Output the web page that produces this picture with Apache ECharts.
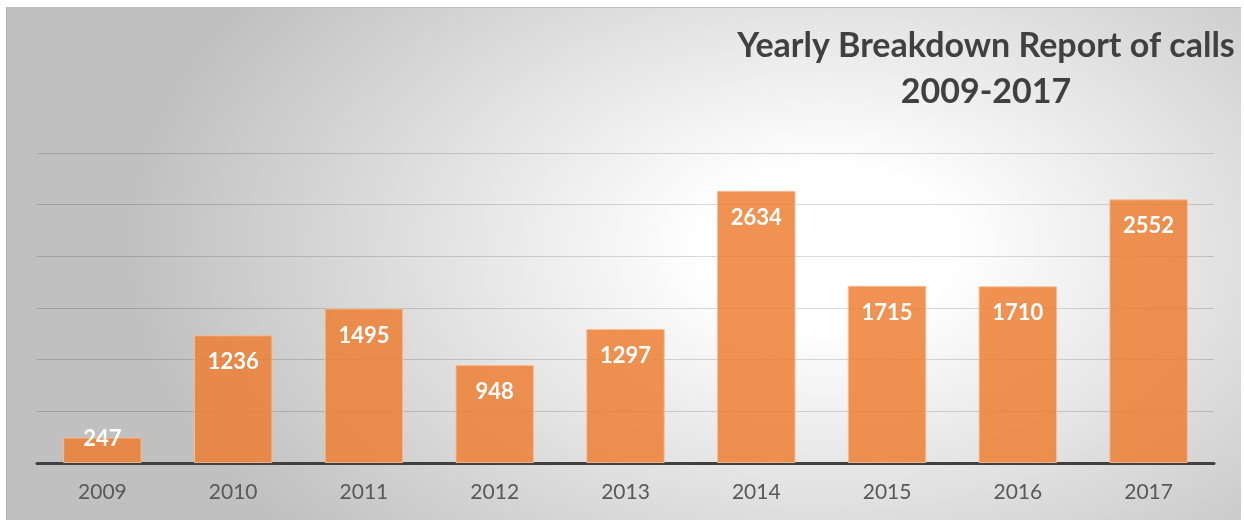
<!DOCTYPE html>
<html>
<head>
<meta charset="utf-8">
<script src="https://cdn.jsdelivr.net/npm/echarts@6/dist/echarts.min.js"></script>
<style>
  html, body { margin: 0; padding: 0; background: #fff; }
  #frame {
    position: absolute; left: 6px; top: 7px; width: 1234px; height: 513px;
    border-left: 1px solid #b0b0b0; border-top: 1px solid #c0c0c0;
    background: radial-gradient(ellipse 700px 440px at 820px 240px, #ffffff 18%, #c0c0c0 100%);
  }
  #chart { width: 1234px; height: 513px; }
</style>
</head>
<body>
<div id="frame"><div id="chart"></div></div>
<script>
const years = ["2009", "2010", "2011", "2012", "2013", "2014", "2015", "2016", "2017"];
const calls = [247, 1236, 1495, 948, 1297, 2634, 1715, 1710, 2552];

const chart = echarts.init(document.getElementById("chart"));

// short bars get their label centred on the bar top
const barData = calls.map((v) => v < 500
  ? { value: v, label: { position: "top", distance: -12 } }
  : v);

chart.setOption({
  backgroundColor: "transparent",
  animation: false,
  title: {
    text: "Yearly Breakdown Report of calls\n2009-2017",
    left: 974,
    top: 10,
    textAlign: "center",
    textStyle: {
      fontFamily: "Lato",
      fontWeight: "bold",
      fontSize: 34,
      lineHeight: 46,
      color: "#404040",
      align: "center"
    }
  },
  grid: { left: 30, right: 27, top: 145, bottom: 58 },
  xAxis: {
    type: "category",
    data: years,
    axisTick: { show: false },
    axisLine: { lineStyle: { color: "#404040", width: 3 } },
    axisLabel: { fontFamily: "Lato", fontSize: 21, color: "#595959", margin: 19 }
  },
  yAxis: {
    type: "value",
    min: 0,
    max: 3000,
    interval: 500,
    axisLabel: { show: false },
    axisLine: { show: false },
    axisTick: { show: false },
    splitLine: { lineStyle: { color: "rgba(0,0,0,0.15)", width: 1 } }
  },
  series: [{
    type: "bar",
    data: barData,
    barCategoryGap: "40%",
    itemStyle: {
      color: "rgba(237,125,49,0.84)",
      borderColor: "rgba(248,190,150,0.9)",
      borderWidth: 1
    },
    label: {
      show: true,
      position: "insideTop",
      distance: 16,
      color: "#fff",
      fontFamily: "Lato",
      fontWeight: "bold",
      fontSize: 22
    }
  }]
});

window.addEventListener("resize", () => chart.resize());
</script>
</body>
</html>
